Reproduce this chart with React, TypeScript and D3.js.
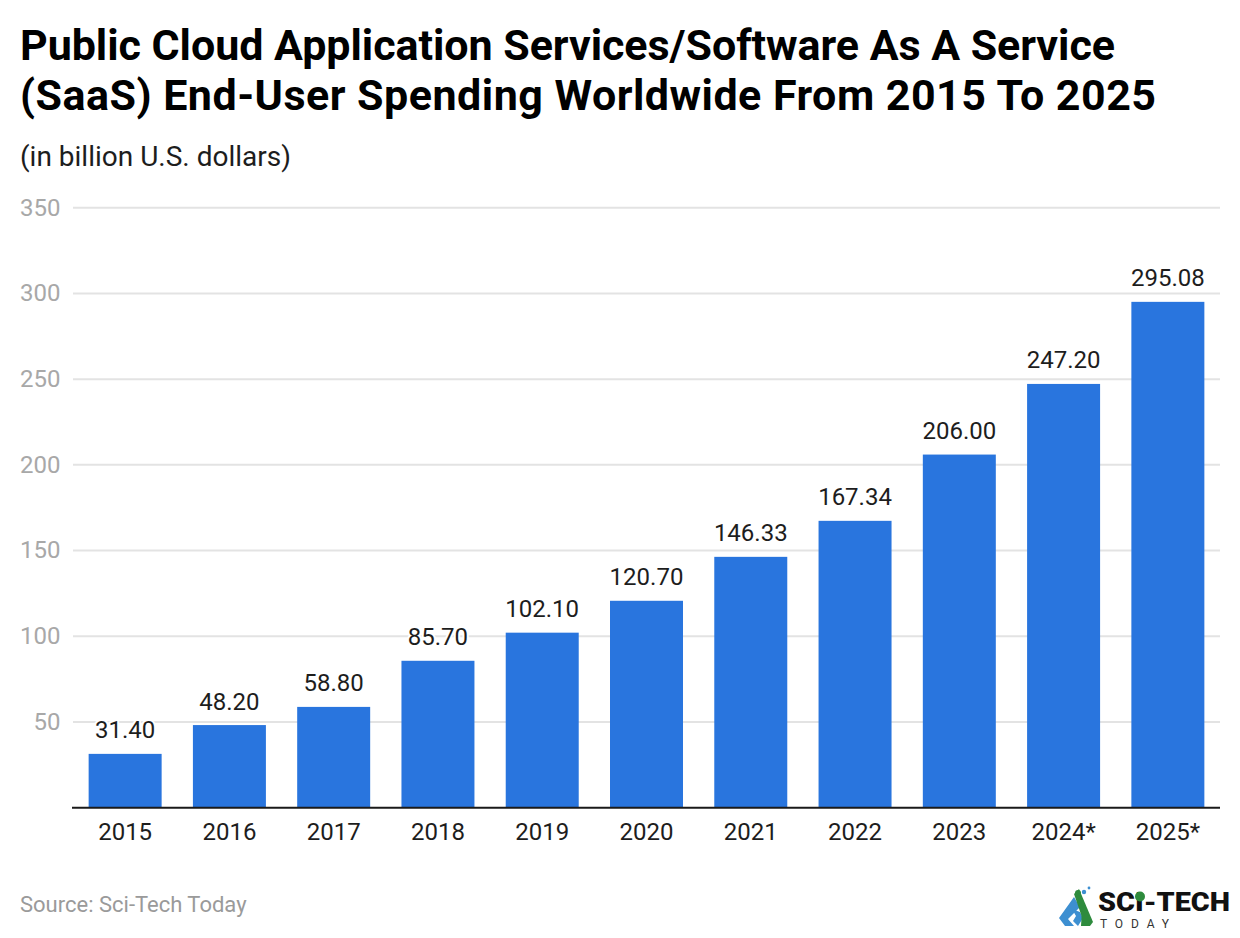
import * as d3 from "d3";

const years = ["2015", "2016", "2017", "2018", "2019", "2020", "2021", "2022", "2023", "2024*", "2025*"];
const spending = [31.4, 48.2, 58.8, 85.7, 102.1, 120.7, 146.33, 167.34, 206.0, 247.2, 295.08];
const yTicks = [50, 100, 150, 200, 250, 300, 350];

const font = "Roboto, sans-serif";

function Logo() {
  return (
    <g>
      {/* blue mark */}
      <path d="M1059 918 L1074 897 L1080 907 L1068 919 L1074 926 L1065 926 Z" fill="#3d8fd1" />
      <path d="M1072 909 L1080 912 L1083 918 L1078 926 L1073 921 L1076 916 Z" fill="#3d8fd1" />
      {/* green mark */}
      <path d="M1074 894 L1079 889 L1093 922 L1090 926 L1085 926 Z" fill="#2e8b3d" />
      <path d="M1082 910 L1085 916 L1085 926 L1081 926 Z" fill="#2e8b3d" />
      <circle cx="1078" cy="893" r="3" fill="#2e8b3d" />
      <circle cx="1084" cy="892" r="2.2" fill="#3d8fd1" />
      <circle cx="1089" cy="888" r="1.4" fill="#3d8fd1" />
      <text x="1098" y="911" fontFamily={font} fontSize="26" fontWeight="900" fill="#111" textLength="132" lengthAdjust="spacingAndGlyphs">
        SCI-TECH
      </text>
      <circle cx="1140" cy="896.5" r="5" fill="#2e8b3d" />
      <text x="1100" y="928" fontFamily={font} fontSize="12" fill="#333" textLength="69" lengthAdjust="spacing">
        TODAY
      </text>
    </g>
  );
}

export default function App() {
  const width = 1240;
  const height = 938;
  const x = d3.scaleBand().domain(years).range([73, 1220]).paddingInner(0.3).paddingOuter(0.15);
  const y = d3.scaleLinear().domain([0, 350]).range([807.7, 207.7]);

  return (
    <svg
      width={width}
      height={height}
      viewBox={`0 0 ${width} ${height}`}
      style={{ position: "absolute", left: 0, top: 0, background: "#fff" }}
    >
      <text x="20" y="60" fontFamily={font} fontSize="43" fontWeight="700" fill="#000" textLength="1095" lengthAdjust="spacing">
        Public Cloud Application Services/Software As A Service
      </text>
      <text x="20" y="110" fontFamily={font} fontSize="43" fontWeight="700" fill="#000" textLength="1136" lengthAdjust="spacing">
        (SaaS) End-User Spending Worldwide From 2015 To 2025
      </text>
      <text x="20" y="166" fontFamily={font} fontSize="28" fill="#1d1d1d">
        (in billion U.S. dollars)
      </text>

      {yTicks.map((tick) => (
        <g key={tick}>
          <line x1={73} x2={1220} y1={y(tick)} y2={y(tick)} stroke="#e3e3e3" strokeWidth="2" />
          <text x={60.5} y={y(tick)} dy="0.33em" textAnchor="end" fontFamily={font} fontSize="24" fill="#a8a8a8">
            {tick}
          </text>
        </g>
      ))}

      {years.map((year, i) => (
        <rect
          key={year}
          x={x(year)}
          y={y(spending[i])}
          width={x.bandwidth()}
          height={y(0) - y(spending[i])}
          fill="#2975de"
        />
      ))}

      <line x1={72} x2={1220} y1={y(0)} y2={y(0)} stroke="#1a1a1a" strokeWidth="2" />

      {years.map((year, i) => (
        <g key={year} fontFamily={font} fontSize="24" fill="#1d1d1d" textAnchor="middle">
          <text
            x={(x(year) ?? 0) + x.bandwidth() / 2}
            y={y(spending[i]) - 15.5}
            stroke="#fff"
            strokeWidth="4"
            paintOrder="stroke"
          >
            {spending[i].toFixed(2)}
          </text>
          <text x={(x(year) ?? 0) + x.bandwidth() / 2} y={840}>
            {year}
          </text>
        </g>
      ))}

      <text x="20" y="912" fontFamily={font} fontSize="22" fill="#9a9a9a">
        Source: Sci-Tech Today
      </text>
      <Logo />
    </svg>
  );
}
